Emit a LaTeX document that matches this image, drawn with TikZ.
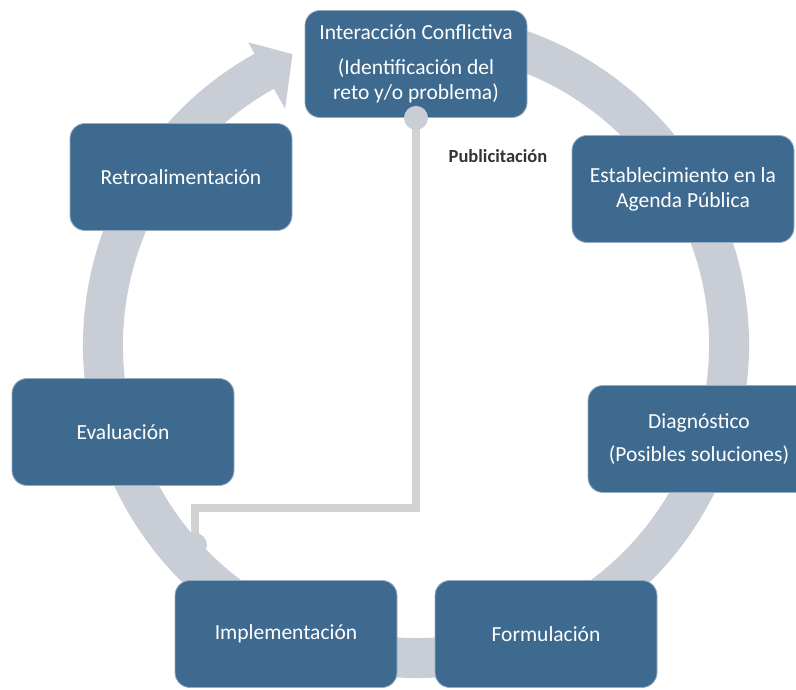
\documentclass[tikz,border=0pt]{standalone}
\usepackage{fontspec}
\setmainfont{Carlito}
\usepackage{tikz}
\usetikzlibrary{calc}
\definecolor{azulcaja}{RGB}{62,106,144}
\definecolor{grisanillo}{RGB}{201,206,214}
\definecolor{grisenlace}{RGB}{210,210,212}

\begin{document}
\begin{tikzpicture}[x=1pt,y=1pt,
    etapa/.style={fill=azulcaja,draw=azulcaja!55!white,line width=0.8pt,rounded corners=15pt,
      minimum width=222pt,minimum height=107pt,align=center,text=white,
      font=\fontsize{21.5}{25}\selectfont},
    anillo/.style={draw=grisanillo,line width=40pt},
    enlace/.style={draw=grisenlace,line width=8pt}]
      \clip (0,0) rectangle (796,689);
      \coordinate (centro) at (416,344);
      \def\radio{313}
      \draw[anillo] ($(centro)+(80:\radio)$) arc[start angle=80,end angle=-241.5,radius=\radio];
      \fill[grisanillo] ($(centro)+(119:270)$) -- ($(centro)+(113:316)$) -- ($(centro)+(119:346)$) -- cycle;
      \foreach \nombre/\px/\py/\texto in {
          conflicto/416/625/{Interacción Conflictiva\\[10pt](Identificación del\\reto y/o problema)},
          agenda/683/500/{Establecimiento en la\\Agenda Pública},
          diagnostico/699/250/{Diagnóstico\\[8pt](Posibles soluciones)},
          formulacion/546/55/{Formulación},
          implementacion/286/55/{Implementación},
          evaluacion/123/257/{Evaluación},
          retro/181/512/{Retroalimentación}}{
        \node[etapa] (\nombre) at (\px,\py) {\texto};
      }
      \coordinate (quiebre) at (195,181);
      \coordinate (pubfin) at (195,144);
      \draw[enlace] (conflicto.south) |- (quiebre) -- (pubfin);
      \fill[grisanillo] (conflicto.south) circle[radius=12];
      \fill[grisanillo] (pubfin) circle[radius=12];
      \node[font=\bfseries\fontsize{18.5}{22}\selectfont,text=black!80] (publicitacion) at (498,533) {Publicitación};
    \end{tikzpicture}
\end{document}
